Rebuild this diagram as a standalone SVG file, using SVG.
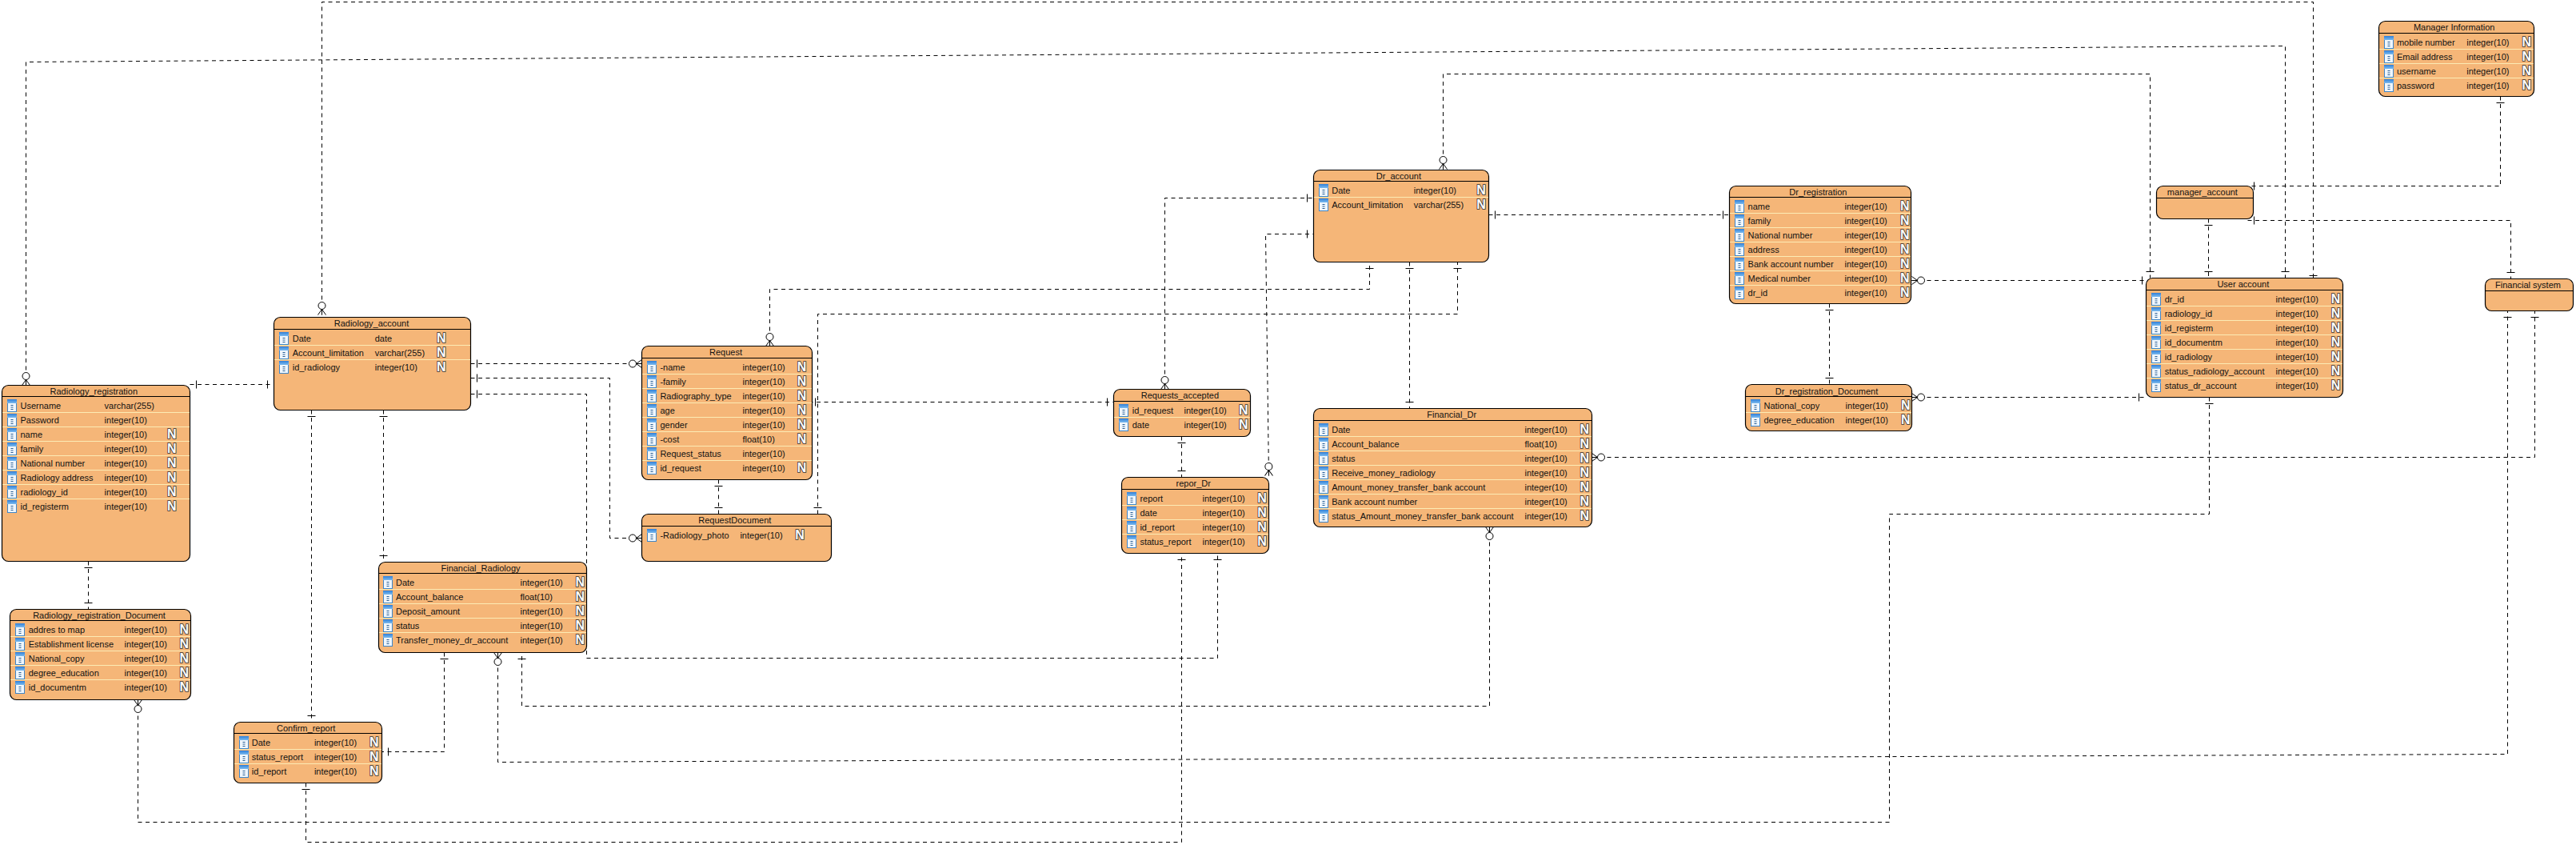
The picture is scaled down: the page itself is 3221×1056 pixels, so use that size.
<svg xmlns="http://www.w3.org/2000/svg" width="3221" height="1056" viewBox="0 0 3221 1056">
<style>
text{font-family:"Liberation Sans",Arial,sans-serif;font-size:11px;fill:#111}
.ti{text-anchor:middle}
.k{font-size:16px;font-weight:700;fill:#fff;stroke:#333;stroke-width:1.7px;paint-order:stroke}
.b{fill:#F5B678;stroke:#000;stroke-width:1.2}
.h{fill:none;stroke:#000;stroke-width:1}
.s{fill:none;stroke:#FCEBB4;stroke-width:1}
.c{fill:none;stroke:#000;stroke-width:1;stroke-dasharray:5 4.5}
.one{marker-start:url(#tick);marker-end:url(#tick)}
.cm{marker-start:url(#tick);marker-end:url(#crow)}
.mc{marker-start:url(#crow);marker-end:url(#tick)}
</style>
<defs>
<linearGradient id="ih" x1="0" y1="0" x2="0" y2="1"><stop offset="0" stop-color="#2F7FD8"/><stop offset="1" stop-color="#7DBBEE"/></linearGradient>
<g id="col"><rect x="0.5" y="0.5" width="11" height="15" fill="#EFF6FC" stroke="#3F86C9"/><rect x="0" y="0" width="12" height="5" fill="url(#ih)"/><path d="M4.5 7.5h3M4.5 10h3M4.5 12.5h3" stroke="#2A5F95" stroke-width="1.2" fill="none"/></g>
<marker id="tick" viewBox="-20 -8 21 16" refX="0" refY="0" markerWidth="21" markerHeight="16" markerUnits="userSpaceOnUse" orient="auto-start-reverse"><path d="M-8 -5V5" stroke="#000" stroke-width="1" fill="none"/></marker>
<marker id="crow" viewBox="-20 -8 21 16" refX="0" refY="0" markerWidth="21" markerHeight="16" markerUnits="userSpaceOnUse" orient="auto-start-reverse"><path d="M-7 0L0 -5M-7 0L0 5M-7 0H0" stroke="#000" stroke-width="1" fill="none"/><ellipse cx="-11.5" cy="0" rx="4.5" ry="4.5" fill="#fff" stroke="#000" stroke-width="1"/></marker>
</defs>
<rect width="3221" height="1056" fill="#fff"/>
<g id="connectors">
<path class="c one" d="M237.5 480.5H342.5"/>
<path class="c cm" d="M588.5 454.5H802.5"/>
<path class="c cm" d="M588.5 472.5H762.5V672.5H802.5"/>
<path class="c one" d="M588.5 492.5H733.5V822.5H1522.5V691.5"/>
<path class="c one" d="M389.5 512.5V902.5"/>
<path class="c one" d="M479.5 512.5V702.5"/>
<path class="c one" d="M110.5 701.5V761.5"/>
<path class="c mc" d="M32.5 481.5V77.5L2857.5 57.5V347.5"/>
<path class="c mc" d="M402.5 393.5V2.5H2892.5V352.5"/>
<path class="c mc" d="M1804.5 211.5V92.5H2688.5V347.5"/>
<path class="c one" d="M3126.5 120.5V232.5H2810.5"/>
<path class="c one" d="M2810.5 275.5H3139.5V348.5"/>
<path class="c one" d="M2761.5 273.5V347.5"/>
<path class="c mc" d="M2390.5 350.5H2686.5"/>
<path class="c mc" d="M2390.5 496.5H2682.5"/>
<path class="c one" d="M2287.5 379.5V480.5"/>
<path class="c one" d="M1861.5 268.5H2162.5"/>
<path class="c cm" d="M2762.5 496.5V642.5H2362.5V1027.5H172.5V874.5"/>
<path class="c mc" d="M622.5 815.5V952.5L3135.5 942.5V388.5"/>
<path class="c mc" d="M1990.5 571.5H3169.5V388.5"/>
<path class="c mc" d="M1862.5 658.5V882.5H652.5V815.5"/>
<path class="c one" d="M555.5 815.5V939.5H477.5"/>
<path class="c one" d="M382.5 978.5V1052.5H1477.5V691.5"/>
<path class="c mc" d="M962.5 432.5V361.5H1712.5V327.5"/>
<path class="c one" d="M1022.5 642.5V392.5H1822.5V327.5"/>
<path class="c one" d="M1011.5 502.5H1392.5"/>
<path class="c one" d="M898.5 599.5V642.5"/>
<path class="c one" d="M1477.5 545.5V596.5"/>
<path class="c mc" d="M1456.5 486.5V247.5H1642.5"/>
<path class="c mc" d="M1586.5 594.5L1582.5 292.5H1642.5"/>
<path class="c one" d="M1762.5 327.5V510.5"/>
</g>

<g id="Radiology_registration"><rect class="b" x="2.5" y="481.5" width="235" height="220" rx="8"/><path class="h" d="M2.5 495.5H237.5"/><text class="ti" x="117.3" y="493">Radiology_registration</text>
<g transform="translate(0,496)"><path class="s" d="M3 19.5H237M3 37.5H237M3 55.5H237M3 73.5H237M3 91.5H237M3 109.5H237M3 127.5H237"/>
<use href="#col" x="9" y="3"/><text x="25.5" y="15">Username</text><text x="130.6" y="15">varchar(255)</text>
<use href="#col" x="9" y="21"/><text x="25.5" y="33">Password</text><text x="130.6" y="33">integer(10)</text>
<use href="#col" x="9" y="39"/><text x="25.5" y="51">name</text><text x="130.6" y="51">integer(10)</text><text class="k" x="209" y="52">N</text>
<use href="#col" x="9" y="57"/><text x="25.5" y="69">family</text><text x="130.6" y="69">integer(10)</text><text class="k" x="209" y="70">N</text>
<use href="#col" x="9" y="75"/><text x="25.5" y="87">National number</text><text x="130.6" y="87">integer(10)</text><text class="k" x="209" y="88">N</text>
<use href="#col" x="9" y="93"/><text x="25.5" y="105">Radiology address</text><text x="130.6" y="105">integer(10)</text><text class="k" x="209" y="106">N</text>
<use href="#col" x="9" y="111"/><text x="25.5" y="123">radiology_id</text><text x="130.6" y="123">integer(10)</text><text class="k" x="209" y="124">N</text>
<use href="#col" x="9" y="129"/><text x="25.5" y="141">id_registerm</text><text x="130.6" y="141">integer(10)</text><text class="k" x="209" y="142">N</text>
</g></g>

<g id="Radiology_registration_Document"><rect class="b" x="12.5" y="761.5" width="226" height="113" rx="8"/><path class="h" d="M12.5 775.5H238.5"/><text class="ti" x="124" y="772.6">Radiology_registration_Document</text>
<g transform="translate(0,776)"><path class="s" d="M13 19.5H238M13 37.5H238M13 55.5H238M13 73.5H238"/>
<use href="#col" x="19" y="3"/><text x="35.7" y="15">addres to map</text><text x="155.6" y="15">integer(10)</text><text class="k" x="224.5" y="16">N</text>
<use href="#col" x="19" y="21"/><text x="35.7" y="33">Establishment license</text><text x="155.6" y="33">integer(10)</text><text class="k" x="224.5" y="34">N</text>
<use href="#col" x="19" y="39"/><text x="35.7" y="51">National_copy</text><text x="155.6" y="51">integer(10)</text><text class="k" x="224.5" y="52">N</text>
<use href="#col" x="19" y="57"/><text x="35.7" y="69">degree_education</text><text x="155.6" y="69">integer(10)</text><text class="k" x="224.5" y="70">N</text>
<use href="#col" x="19" y="75"/><text x="35.7" y="87">id_documentm</text><text x="155.6" y="87">integer(10)</text><text class="k" x="224.5" y="88">N</text>
</g></g>

<g id="Radiology_account"><rect class="b" x="342.5" y="396.5" width="246" height="116" rx="8"/><path class="h" d="M342.5 411.5H588.5"/><text class="ti" x="464.5" y="408.3">Radiology_account</text>
<g transform="translate(0,412)"><path class="s" d="M343 19.5H588M343 37.5H588"/>
<use href="#col" x="349" y="3"/><text x="365.7" y="15">Date</text><text x="468.7" y="15">date</text><text class="k" x="546" y="16">N</text>
<use href="#col" x="349" y="21"/><text x="365.7" y="33">Account_limitation</text><text x="468.7" y="33">varchar(255)</text><text class="k" x="546" y="34">N</text>
<use href="#col" x="349" y="39"/><text x="365.7" y="51">id_radiology</text><text x="468.7" y="51">integer(10)</text><text class="k" x="546" y="52">N</text>
</g></g>

<g id="Confirm_report"><rect class="b" x="292.5" y="902.5" width="185" height="76" rx="8"/><path class="h" d="M292.5 916.5H477.5"/><text class="ti" x="382.7" y="913.6">Confirm_report</text>
<g transform="translate(0,917)"><path class="s" d="M293 19.5H477M293 37.5H477"/>
<use href="#col" x="299" y="3"/><text x="314.8" y="15">Date</text><text x="392.9" y="15">integer(10)</text><text class="k" x="462" y="16">N</text>
<use href="#col" x="299" y="21"/><text x="314.8" y="33">status_report</text><text x="392.9" y="33">integer(10)</text><text class="k" x="462" y="34">N</text>
<use href="#col" x="299" y="39"/><text x="314.8" y="51">id_report</text><text x="392.9" y="51">integer(10)</text><text class="k" x="462" y="52">N</text>
</g></g>

<g id="Financial_Radiology"><rect class="b" x="473.5" y="702.5" width="260" height="113" rx="8"/><path class="h" d="M473.5 716.5H733.5"/><text class="ti" x="601" y="713.6">Financial_Radiology</text>
<g transform="translate(0,717)"><path class="s" d="M474 19.5H733M474 37.5H733M474 55.5H733M474 73.5H733"/>
<use href="#col" x="479" y="3"/><text x="495" y="15">Date</text><text x="650.5" y="15">integer(10)</text><text class="k" x="719.4" y="16">N</text>
<use href="#col" x="479" y="21"/><text x="495" y="33">Account_balance</text><text x="650.5" y="33">float(10)</text><text class="k" x="719.4" y="34">N</text>
<use href="#col" x="479" y="39"/><text x="495" y="51">Deposit_amount</text><text x="650.5" y="51">integer(10)</text><text class="k" x="719.4" y="52">N</text>
<use href="#col" x="479" y="57"/><text x="495" y="69">status</text><text x="650.5" y="69">integer(10)</text><text class="k" x="719.4" y="70">N</text>
<use href="#col" x="479" y="75"/><text x="495" y="87">Transfer_money_dr_account</text><text x="650.5" y="87">integer(10)</text><text class="k" x="719.4" y="88">N</text>
</g></g>

<g id="Request"><rect class="b" x="802.5" y="432.5" width="213" height="167" rx="8"/><path class="h" d="M802.5 447.5H1015.5"/><text class="ti" x="907.5" y="444.3">Request</text>
<g transform="translate(0,448)"><path class="s" d="M803 19.5H1015M803 37.5H1015M803 55.5H1015M803 73.5H1015M803 91.5H1015M803 109.5H1015M803 127.5H1015"/>
<use href="#col" x="809" y="3"/><text x="825.4" y="15">-name</text><text x="928.5" y="15">integer(10)</text><text class="k" x="996.8" y="16">N</text>
<use href="#col" x="809" y="21"/><text x="825.4" y="33">-family</text><text x="928.5" y="33">integer(10)</text><text class="k" x="996.8" y="34">N</text>
<use href="#col" x="809" y="39"/><text x="825.4" y="51">Radiography_type</text><text x="928.5" y="51">integer(10)</text><text class="k" x="996.8" y="52">N</text>
<use href="#col" x="809" y="57"/><text x="825.4" y="69">age</text><text x="928.5" y="69">integer(10)</text><text class="k" x="996.8" y="70">N</text>
<use href="#col" x="809" y="75"/><text x="825.4" y="87">gender</text><text x="928.5" y="87">integer(10)</text><text class="k" x="996.8" y="88">N</text>
<use href="#col" x="809" y="93"/><text x="825.4" y="105">-cost</text><text x="928.5" y="105">float(10)</text><text class="k" x="996.8" y="106">N</text>
<use href="#col" x="809" y="111"/><text x="825.4" y="123">Request_status</text><text x="928.5" y="123">integer(10)</text>
<use href="#col" x="809" y="129"/><text x="825.4" y="141">id_request</text><text x="928.5" y="141">integer(10)</text><text class="k" x="996.8" y="142">N</text>
</g></g>

<g id="RequestDocument"><rect class="b" x="802.5" y="642.5" width="237" height="59" rx="8"/><path class="h" d="M802.5 657.5H1039.5"/><text class="ti" x="918.8" y="654.2">RequestDocument</text>
<g transform="translate(0,658)">
<use href="#col" x="809" y="3"/><text x="825.4" y="15">-Radiology_photo</text><text x="925.4" y="15">integer(10)</text><text class="k" x="994.3" y="16">N</text>
</g></g>

<g id="Requests_accepted"><rect class="b" x="1392.5" y="486.5" width="171" height="59" rx="8"/><path class="h" d="M1392.5 501.5H1563.5"/><text class="ti" x="1475.4" y="498.2">Requests_accepted</text>
<g transform="translate(0,502)"><path class="s" d="M1393 19.5H1563"/>
<use href="#col" x="1399" y="3"/><text x="1415.7" y="15">id_request</text><text x="1480.5" y="15">integer(10)</text><text class="k" x="1548.9" y="16">N</text>
<use href="#col" x="1399" y="21"/><text x="1415.7" y="33">date</text><text x="1480.5" y="33">integer(10)</text><text class="k" x="1548.9" y="34">N</text>
</g></g>

<g id="repor_Dr"><rect class="b" x="1402.5" y="596.5" width="184" height="95" rx="8"/><path class="h" d="M1402.5 611.5H1586.5"/><text class="ti" x="1492.2" y="608.1">repor_Dr</text>
<g transform="translate(0,612)"><path class="s" d="M1403 19.5H1586M1403 37.5H1586M1403 55.5H1586"/>
<use href="#col" x="1409" y="3"/><text x="1425.4" y="15">report</text><text x="1503.5" y="15">integer(10)</text><text class="k" x="1572.3" y="16">N</text>
<use href="#col" x="1409" y="21"/><text x="1425.4" y="33">date</text><text x="1503.5" y="33">integer(10)</text><text class="k" x="1572.3" y="34">N</text>
<use href="#col" x="1409" y="39"/><text x="1425.4" y="51">id_report</text><text x="1503.5" y="51">integer(10)</text><text class="k" x="1572.3" y="52">N</text>
<use href="#col" x="1409" y="57"/><text x="1425.4" y="69">status_report</text><text x="1503.5" y="69">integer(10)</text><text class="k" x="1572.3" y="70">N</text>
</g></g>

<g id="Dr_account"><rect class="b" x="1642.5" y="212.5" width="219" height="115" rx="8"/><path class="h" d="M1642.5 226.5H1861.5"/><text class="ti" x="1748.9" y="223.6">Dr_account</text>
<g transform="translate(0,227)"><path class="s" d="M1643 19.5H1861"/>
<use href="#col" x="1649" y="3"/><text x="1665.2" y="15">Date</text><text x="1767.8" y="15">integer(10)</text><text class="k" x="1846.3" y="16">N</text>
<use href="#col" x="1649" y="21"/><text x="1665.2" y="33">Account_limitation</text><text x="1767.8" y="33">varchar(255)</text><text class="k" x="1846.3" y="34">N</text>
</g></g>

<g id="Financial_Dr"><rect class="b" x="1642.5" y="510.5" width="348" height="148" rx="8"/><path class="h" d="M1642.5 525.5H1990.5"/><text class="ti" x="1815.2" y="522.1">Financial_Dr</text>
<g transform="translate(0,526)"><path class="s" d="M1643 19.5H1990M1643 37.5H1990M1643 55.5H1990M1643 73.5H1990M1643 91.5H1990M1643 109.5H1990"/>
<use href="#col" x="1649" y="3"/><text x="1665.2" y="15">Date</text><text x="1906.5" y="15">integer(10)</text><text class="k" x="1975.4" y="16">N</text>
<use href="#col" x="1649" y="21"/><text x="1665.2" y="33">Account_balance</text><text x="1906.5" y="33">float(10)</text><text class="k" x="1975.4" y="34">N</text>
<use href="#col" x="1649" y="39"/><text x="1665.2" y="51">status</text><text x="1906.5" y="51">integer(10)</text><text class="k" x="1975.4" y="52">N</text>
<use href="#col" x="1649" y="57"/><text x="1665.2" y="69">Receive_money_radiology</text><text x="1906.5" y="69">integer(10)</text><text class="k" x="1975.4" y="70">N</text>
<use href="#col" x="1649" y="75"/><text x="1665.2" y="87">Amount_money_transfer_bank account</text><text x="1906.5" y="87">integer(10)</text><text class="k" x="1975.4" y="88">N</text>
<use href="#col" x="1649" y="93"/><text x="1665.2" y="105">Bank account number</text><text x="1906.5" y="105">integer(10)</text><text class="k" x="1975.4" y="106">N</text>
<use href="#col" x="1649" y="111"/><text x="1665.2" y="123">status_Amount_money_transfer_bank account</text><text x="1906.5" y="123">integer(10)</text><text class="k" x="1975.4" y="124">N</text>
</g></g>

<g id="Dr_registration"><rect class="b" x="2162.5" y="232.5" width="227" height="147" rx="8"/><path class="h" d="M2162.5 246.5H2389.5"/><text class="ti" x="2273.4" y="243.9">Dr_registration</text>
<g transform="translate(0,247)"><path class="s" d="M2163 19.5H2389M2163 37.5H2389M2163 55.5H2389M2163 73.5H2389M2163 91.5H2389M2163 109.5H2389"/>
<use href="#col" x="2169" y="3"/><text x="2185.6" y="15">name</text><text x="2306.5" y="15">integer(10)</text><text class="k" x="2375.9" y="16">N</text>
<use href="#col" x="2169" y="21"/><text x="2185.6" y="33">family</text><text x="2306.5" y="33">integer(10)</text><text class="k" x="2375.9" y="34">N</text>
<use href="#col" x="2169" y="39"/><text x="2185.6" y="51">National number</text><text x="2306.5" y="51">integer(10)</text><text class="k" x="2375.9" y="52">N</text>
<use href="#col" x="2169" y="57"/><text x="2185.6" y="69">address</text><text x="2306.5" y="69">integer(10)</text><text class="k" x="2375.9" y="70">N</text>
<use href="#col" x="2169" y="75"/><text x="2185.6" y="87">Bank account number</text><text x="2306.5" y="87">integer(10)</text><text class="k" x="2375.9" y="88">N</text>
<use href="#col" x="2169" y="93"/><text x="2185.6" y="105">Medical number</text><text x="2306.5" y="105">integer(10)</text><text class="k" x="2375.9" y="106">N</text>
<use href="#col" x="2169" y="111"/><text x="2185.6" y="123">dr_id</text><text x="2306.5" y="123">integer(10)</text><text class="k" x="2375.9" y="124">N</text>
</g></g>

<g id="Dr_registration_Document"><rect class="b" x="2182.5" y="480.5" width="208" height="58" rx="8"/><path class="h" d="M2182.5 495.5H2390.5"/><text class="ti" x="2284" y="492.6">Dr_registration_Document</text>
<g transform="translate(0,496)"><path class="s" d="M2183 19.5H2390"/>
<use href="#col" x="2189" y="3"/><text x="2205.5" y="15">National_copy</text><text x="2307.6" y="15">integer(10)</text><text class="k" x="2377" y="16">N</text>
<use href="#col" x="2189" y="21"/><text x="2205.5" y="33">degree_education</text><text x="2307.6" y="33">integer(10)</text><text class="k" x="2377" y="34">N</text>
</g></g>

<g id="Manager_Information"><rect class="b" x="2974.5" y="26.5" width="194" height="94" rx="8"/><path class="h" d="M2974.5 41.5H3168.5"/><text class="ti" x="3068.7" y="37.9">Manager Information</text>
<g transform="translate(0,42)"><path class="s" d="M2975 19.5H3168M2975 37.5H3168M2975 55.5H3168"/>
<use href="#col" x="2981" y="3"/><text x="2996.9" y="15">mobile number</text><text x="3084.3" y="15">integer(10)</text><text class="k" x="3153.5" y="16">N</text>
<use href="#col" x="2981" y="21"/><text x="2996.9" y="33">Email address</text><text x="3084.3" y="33">integer(10)</text><text class="k" x="3153.5" y="34">N</text>
<use href="#col" x="2981" y="39"/><text x="2996.9" y="51">username</text><text x="3084.3" y="51">integer(10)</text><text class="k" x="3153.5" y="52">N</text>
<use href="#col" x="2981" y="57"/><text x="2996.9" y="69">password</text><text x="3084.3" y="69">integer(10)</text><text class="k" x="3153.5" y="70">N</text>
</g></g>

<g id="manager_account"><rect class="b" x="2696.5" y="232.5" width="121" height="41" rx="8"/><path class="h" d="M2696.5 247.5H2817.5"/><text class="ti" x="2753.9" y="243.9">manager_account</text></g>

<g id="User_account"><rect class="b" x="2683.5" y="347.5" width="246" height="149" rx="8"/><path class="h" d="M2683.5 362.5H2929.5"/><text class="ti" x="2804.8" y="359.3">User account</text>
<g transform="translate(0,363)"><path class="s" d="M2684 19.5H2929M2684 37.5H2929M2684 55.5H2929M2684 73.5H2929M2684 91.5H2929M2684 109.5H2929"/>
<use href="#col" x="2690" y="3"/><text x="2706.7" y="15">dr_id</text><text x="2845.6" y="15">integer(10)</text><text class="k" x="2914.8" y="16">N</text>
<use href="#col" x="2690" y="21"/><text x="2706.7" y="33">radiology_id</text><text x="2845.6" y="33">integer(10)</text><text class="k" x="2914.8" y="34">N</text>
<use href="#col" x="2690" y="39"/><text x="2706.7" y="51">id_registerm</text><text x="2845.6" y="51">integer(10)</text><text class="k" x="2914.8" y="52">N</text>
<use href="#col" x="2690" y="57"/><text x="2706.7" y="69">id_documentm</text><text x="2845.6" y="69">integer(10)</text><text class="k" x="2914.8" y="70">N</text>
<use href="#col" x="2690" y="75"/><text x="2706.7" y="87">id_radiology</text><text x="2845.6" y="87">integer(10)</text><text class="k" x="2914.8" y="88">N</text>
<use href="#col" x="2690" y="93"/><text x="2706.7" y="105">status_radiology_account</text><text x="2845.6" y="105">integer(10)</text><text class="k" x="2914.8" y="106">N</text>
<use href="#col" x="2690" y="111"/><text x="2706.7" y="123">status_dr_account</text><text x="2845.6" y="123">integer(10)</text><text class="k" x="2914.8" y="124">N</text>
</g></g>

<g id="Financial_system"><rect class="b" x="3107.5" y="348.5" width="110" height="40" rx="8"/><path class="h" d="M3107.5 363.5H3217.5"/><text class="ti" x="3161" y="359.9">Financial system</text></g>
</svg>
